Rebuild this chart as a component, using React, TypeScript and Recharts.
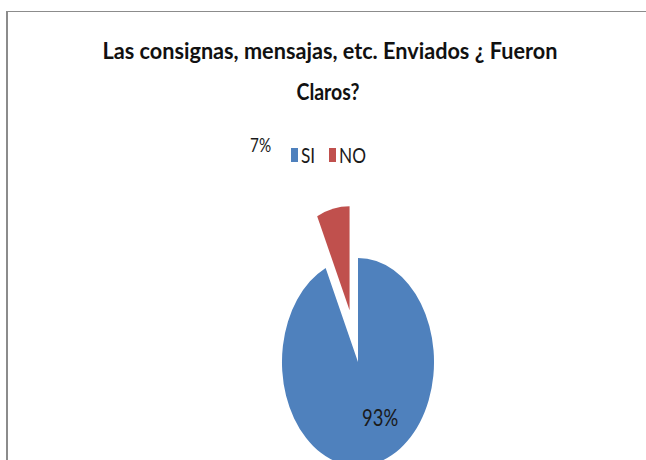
import { Cell, Legend, Pie, PieChart, Sector } from "recharts";

const CATEGORIES = ["SI", "NO"];
const PERCENTS = [93, 7];
const SLICE_COLORS = ["#4F81BD", "#C0504D"];
const TITLE_LINES = ["Las consignas, mensajas, etc. Enviados ¿ Fueron", "Claros?"];

const data = CATEGORIES.map((name, i) => ({ name, value: PERCENTS[i] }));

const RAD = Math.PI / 180;
// the whole picture is squashed sideways, so the pie is an ellipse
const SQUASH = 0.731;
const EXPLODE: Record<string, number> = { NO: 53 };
const LABEL_SPOT: Record<string, { r: number; nudge: number; size: number }> = {
  SI: { r: 57, nudge: 13, size: 23 },
  NO: { r: 222, nudge: -62, size: 19 },
};
const FONT = "Lato, 'Open Sans', sans-serif";

function EllipseSlice(props: any) {
  const { cx, cy, midAngle } = props;
  const name = props.payload?.name ?? props.name;
  const off = EXPLODE[name] ?? 0;
  const dx = off * Math.cos(-midAngle * RAD) * SQUASH;
  const dy = off * Math.sin(-midAngle * RAD);
  return (
    <g
      transform={`translate(${cx + dx},${cy + dy}) scale(${SQUASH},1) translate(${-cx},${-cy})`}
    >
      <Sector {...props} stroke="none" />
    </g>
  );
}

function SliceLabel(props: any) {
  const { cx, cy, midAngle, percent, name } = props;
  const spot = LABEL_SPOT[name];
  if (!spot) return null;
  const x = cx + spot.r * Math.cos(-midAngle * RAD) * SQUASH + spot.nudge;
  const y = cy + spot.r * Math.sin(-midAngle * RAD);
  return (
    <text
      transform={`translate(${x},${y}) scale(0.8,1)`}
      textAnchor="middle"
      dy="0.36em"
      fontFamily={FONT}
      fontSize={spot.size}
      fill="#1a1a1a"
    >
      {`${Math.round(percent * 100)}%`}
    </text>
  );
}

function LegendContent({ payload }: any) {
  const items = [...(payload ?? [])].sort(
    (a: any, b: any) => CATEGORIES.indexOf(a.value) - CATEGORIES.indexOf(b.value),
  );
  return (
    <div style={{ display: "flex", alignItems: "center", fontFamily: FONT, fontSize: 21 }}>
      {items.map((item: any) => (
        <div
          key={item.value}
          style={{
            display: "flex",
            alignItems: "center",
            width: 38,
            height: 22,
            flexShrink: 0,
          }}
        >
          <span
            style={{
              display: "inline-block",
              width: 7,
              height: 14,
              flexShrink: 0,
              background: item.color,
            }}
          />
          <span
            style={{
              display: "inline-block",
              marginLeft: 3,
              transform: "scaleX(0.82)",
              transformOrigin: "left center",
              color: "#1a1a1a",
              lineHeight: "22px",
              whiteSpace: "nowrap",
            }}
          >
            {item.value}
          </span>
        </div>
      ))}
    </div>
  );
}

export default function App() {
  return (
    <div
      style={{
        position: "absolute",
        left: 0,
        top: 0,
        width: 646,
        height: 460,
        background: "#fff",
        overflow: "hidden",
      }}
    >
      <div
        style={{
          position: "absolute",
          left: 6,
          top: 11,
          width: 660,
          height: 470,
          borderTop: "1.5px solid #8c8c8c",
          borderLeft: "2px solid #8c8c8c",
        }}
      />
      <PieChart width={646} height={460} margin={{ top: 0, right: 0, bottom: 0, left: 0 }}>
        <text
          x={330}
          y={59}
          textAnchor="middle"
          fontFamily={FONT}
          fontWeight={700}
          fontSize={23}
          textLength={455}
          lengthAdjust="spacingAndGlyphs"
          fill="#111"
        >
          {TITLE_LINES[0]}
        </text>
        <text
          x={328}
          y={100}
          textAnchor="middle"
          fontFamily={FONT}
          fontWeight={700}
          fontSize={23}
          textLength={63}
          lengthAdjust="spacingAndGlyphs"
          fill="#111"
        >
          {TITLE_LINES[1]}
        </text>
        <Pie
          data={data}
          dataKey="value"
          nameKey="name"
          cx={358}
          cy={362}
          outerRadius={104}
          startAngle={90}
          endAngle={-270}
          shape={EllipseSlice}
          label={SliceLabel}
          labelLine={false}
          isAnimationActive={false}
        >
          {data.map((d, i) => (
            <Cell key={d.name} fill={SLICE_COLORS[i]} />
          ))}
        </Pie>
        <Legend
          layout="horizontal"
          align="center"
          verticalAlign="middle"
          wrapperStyle={{ left: 291, top: 144, width: 100, height: 22 }}
          content={LegendContent}
        />
      </PieChart>
    </div>
  );
}
